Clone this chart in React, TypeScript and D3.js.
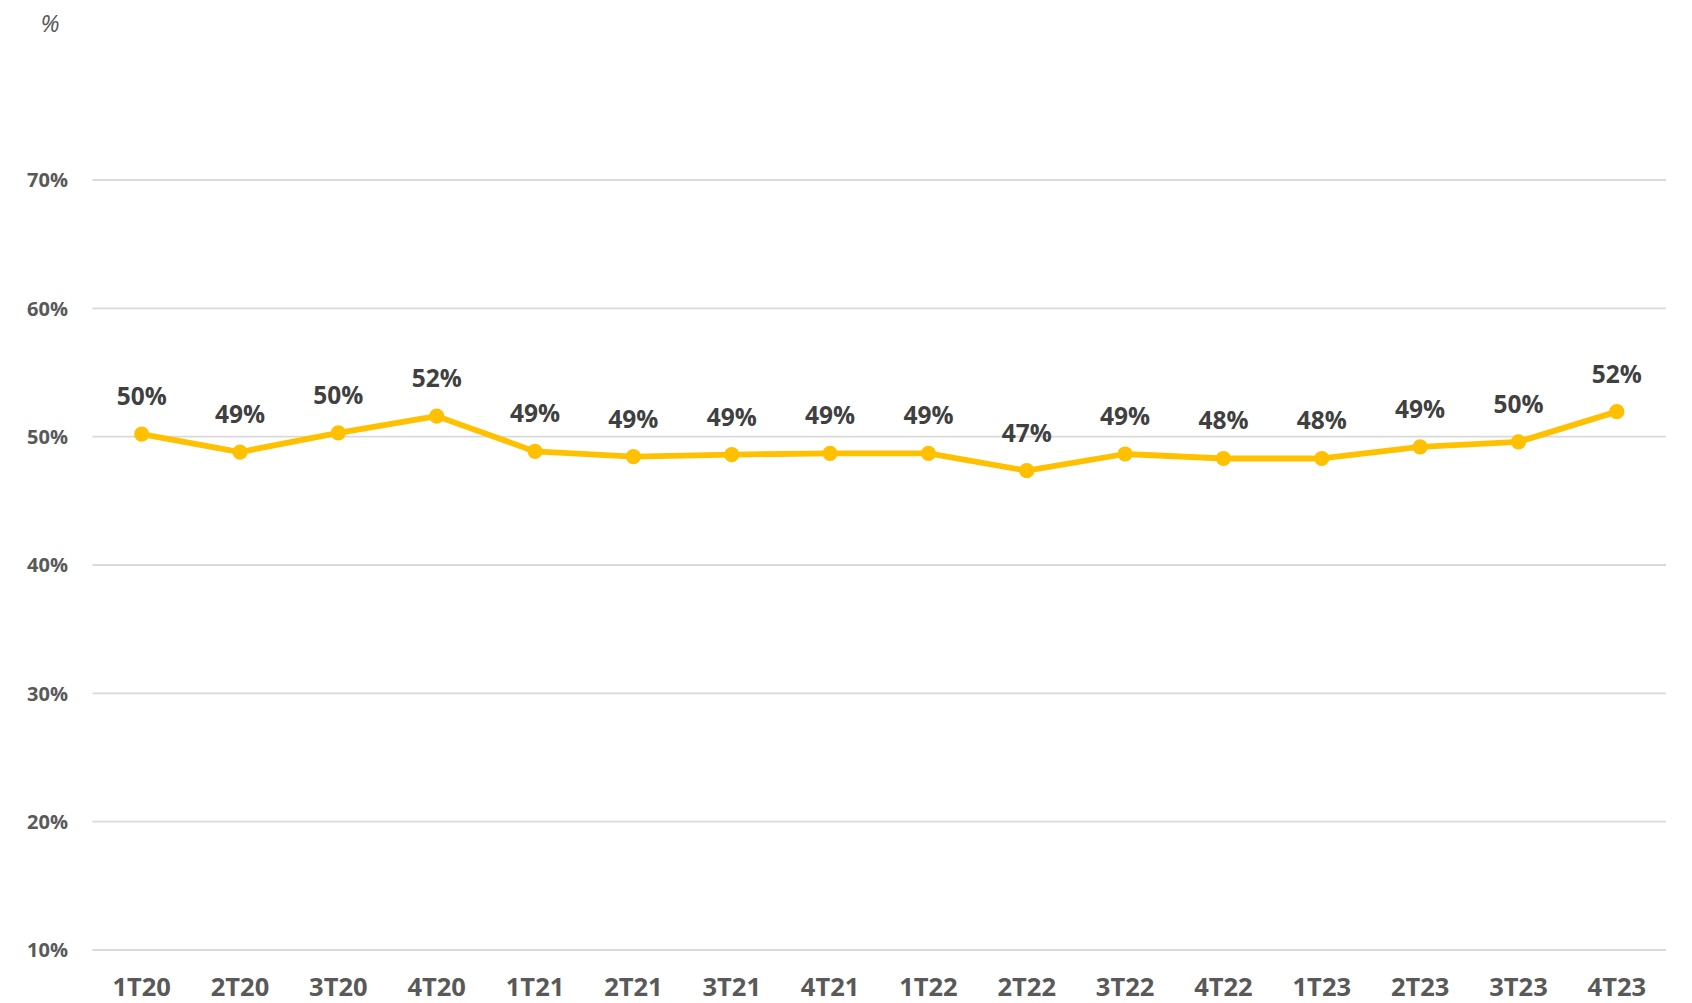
import React from "react";
import * as d3 from "d3";

const categories = ["1T20","2T20","3T20","4T20","1T21","2T21","3T21","4T21","1T22","2T22","3T22","4T22","1T23","2T23","3T23","4T23"];
const values = [50.2, 48.8, 50.3, 51.6, 48.85, 48.45, 48.6, 48.7, 48.7, 47.35, 48.65, 48.3, 48.3, 49.2, 49.6, 51.95];
const dataLabels = ["50%","49%","50%","52%","49%","49%","49%","49%","49%","47%","49%","48%","48%","49%","50%","52%"];
const yTicks = [10, 20, 30, 40, 50, 60, 70];
const yTitle = "%";

const W = 1692;
const H = 1003;
const FONT = "'Open Sans', 'DejaVu Sans', sans-serif";

export default function App() {
  const x = d3.scaleBand<string>().domain(categories).range([92.5, 1666]);
  const y = d3.scaleLinear().domain([10, 70]).range([950, 180]);
  const cx = (c: string) => (x(c) as number) + x.bandwidth() / 2;
  const pts = categories.map((c, i) => ({ c, v: values[i], l: dataLabels[i] }));
  const line = d3
    .line<{ c: string; v: number }>()
    .x((d) => cx(d.c))
    .y((d) => y(d.v));

  return (
    <svg
      width={W}
      height={H}
      style={{ position: "absolute", left: 0, top: 0, background: "#fff", fontFamily: FONT }}
    >
      <rect x={0} y={0} width={W} height={H} fill="#fff" />
      <text x={50} y={32} textAnchor="middle" fontSize={24} fontStyle="italic" fill="#595959">
        {yTitle}
      </text>
      {yTicks.map((t) => (
        <g key={t}>
          <line x1={92.5} x2={1666} y1={y(t)} y2={y(t)} stroke="#d9d9d9" strokeWidth={1.8} />
          <text
            x={68}
            y={y(t)}
            dy="0.36em"
            textAnchor="end"
            fontSize={20}
            fontWeight={700}
            fill="#595959"
          >
            {t}%
          </text>
        </g>
      ))}
      {categories.map((c) => (
        <text key={c} x={cx(c)} y={996} textAnchor="middle" fontSize={25.5} fontWeight={700} fill="#595959">
          {c}
        </text>
      ))}
      <path d={line(pts) || ""} fill="none" stroke="#FFC000" strokeWidth={5.8} strokeLinejoin="round" />
      {pts.map((p) => (
        <circle key={p.c} cx={cx(p.c)} cy={y(p.v)} r={7.6} fill="#FFC000" />
      ))}
      {pts.map((p) => (
        <text
          key={"l" + p.c}
          x={cx(p.c)}
          y={y(p.v) - 29}
          textAnchor="middle"
          fontSize={24.5}
          fontWeight={700}
          fill="#404040"
        >
          {p.l}
        </text>
      ))}
    </svg>
  );
}
